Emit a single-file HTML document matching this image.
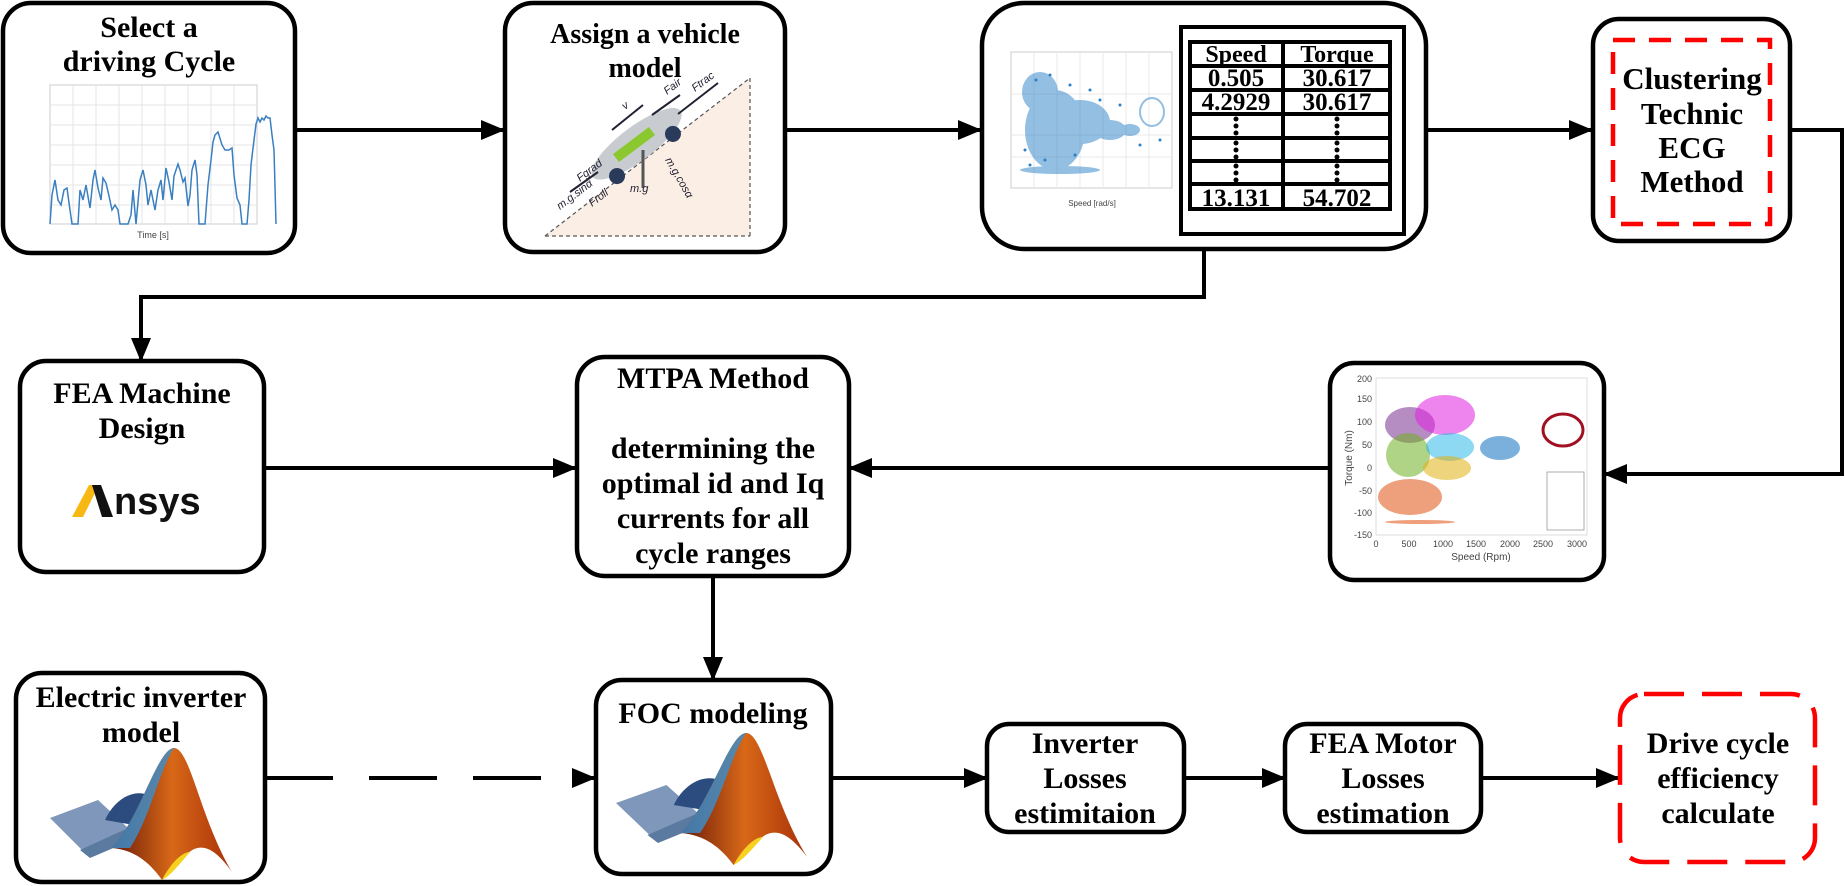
<!DOCTYPE html>
<html><head><meta charset="utf-8"><style>
html,body{margin:0;padding:0;background:#fff;}
svg{display:block;}
.t{font-family:"Liberation Serif",serif;font-weight:bold;text-anchor:middle;fill:#000;}
.ax{font-family:"Liberation Sans",sans-serif;fill:#444;}
</style></head><body>
<svg width="1845" height="886" viewBox="0 0 1845 886" xmlns="http://www.w3.org/2000/svg">
<defs>
<marker id="ah" markerWidth="6" markerHeight="5" refX="5.5" refY="2.5" orient="auto" markerUnits="strokeWidth"><path d="M0,0 L6,2.5 L0,5 Z" fill="#000"/></marker>
<linearGradient id="og2" x1="0" y1="0" x2="1" y2="0"><stop offset="0" stop-color="#6a1a08"/><stop offset="0.5" stop-color="#d86818"/><stop offset="1" stop-color="#a83008"/></linearGradient>
<g id="ml">
<path d="M0,70 L48,52 L78,80 L32,102 Z" fill="#7f97ba"/>
<path d="M30,102 L78,80 L82,92 L40,110 Z" fill="#5a7aa0"/>
<path d="M55,72 C65,50 85,40 100,48 L90,78 Z" fill="#2c4c80"/>
<path d="M62,100 C90,70 108,0 124,0 C140,0 150,70 182,124 C165,100 150,92 135,108 C125,120 118,128 112,132 C100,115 85,102 62,100 Z" fill="url(#og2)"/>
<path d="M112,132 C118,120 130,104 140,104 C128,118 120,128 112,132 Z" fill="#f8d020"/>
<path d="M62,100 C90,70 108,0 124,0 C110,20 100,70 80,100 Z" fill="#3a90d0" opacity="0.8"/>
</g>
</defs>

<g stroke="#000" stroke-width="4" fill="none">
<line x1="296" y1="130" x2="503" y2="130" marker-end="url(#ah)"/>
<line x1="785" y1="130" x2="980" y2="130" marker-end="url(#ah)"/>
<line x1="1427" y1="130" x2="1591" y2="130" marker-end="url(#ah)"/>
<polyline points="1791,130 1842,130 1842,474 1605,474" marker-end="url(#ah)"/>
<line x1="1328" y1="468" x2="850" y2="468" marker-end="url(#ah)"/>
<line x1="265" y1="468" x2="575" y2="468" marker-end="url(#ah)"/>
<polyline points="1204,250 1204,297 141,297 141,360" marker-end="url(#ah)"/>
<line x1="713" y1="577" x2="713" y2="679" marker-end="url(#ah)"/>
<line x1="265" y1="778" x2="594" y2="778" stroke-dasharray="68,36" marker-end="url(#ah)"/>
<line x1="832" y1="778" x2="986" y2="778" marker-end="url(#ah)"/>
<line x1="1185" y1="778" x2="1284" y2="778" marker-end="url(#ah)"/>
<line x1="1482" y1="778" x2="1618" y2="778" marker-end="url(#ah)"/>
</g>

<rect x="3" y="3" width="292" height="250" rx="28" fill="#fff" stroke="#000" stroke-width="4.5"/>
<text class="t" x="149" y="37" font-size="30">Select a</text>
<text class="t" x="149" y="71" font-size="30">driving Cycle</text>
<rect x="50" y="85" width="207" height="139" fill="#fff" stroke="#ccc" stroke-width="1"/>
<g stroke="#e4e4e4" stroke-width="1">
<line x1="73" y1="85" x2="73" y2="224"/><line x1="96" y1="85" x2="96" y2="224"/><line x1="119" y1="85" x2="119" y2="224"/><line x1="142" y1="85" x2="142" y2="224"/><line x1="165" y1="85" x2="165" y2="224"/><line x1="188" y1="85" x2="188" y2="224"/><line x1="211" y1="85" x2="211" y2="224"/><line x1="234" y1="85" x2="234" y2="224"/>
<line x1="50" y1="105" x2="257" y2="105"/><line x1="50" y1="125" x2="257" y2="125"/><line x1="50" y1="145" x2="257" y2="145"/><line x1="50" y1="165" x2="257" y2="165"/><line x1="50" y1="185" x2="257" y2="185"/><line x1="50" y1="205" x2="257" y2="205"/>
</g>
<polyline fill="none" stroke="#3a7fc0" stroke-width="1.5" points="50,224 52,195 55,180 58,200 61,205 64,190 67,188 70,210 72,224 78,224 80,190 83,200 86,185 90,208 93,180 95,170 98,188 101,200 103,178 106,183 109,196 112,210 115,205 118,210 120,224 128,224 131,215 133,190 136,224 140,180 143,170 146,185 148,205 151,190 155,210 158,190 161,180 163,200 166,168 169,182 172,200 174,176 178,164 180,170 183,182 185,178 188,206 190,195 192,170 195,160 197,175 199,224 205,224 208,185 211,160 213,142 215,135 218,132 222,145 225,150 229,150 232,148 234,175 237,198 240,205 242,224 247,224 249,200 251,165 254,140 256,124 258,118 260,122 262,118 264,120 266,116 268,118 270,118 272,135 274,150 276,224"/>
<text class="ax" x="153" y="238" font-size="9" text-anchor="middle">Time [s]</text>

<rect x="505" y="3" width="280" height="249" rx="28" fill="#fff" stroke="#000" stroke-width="4.5"/>
<text class="t" x="645" y="43" font-size="28">Assign a vehicle</text>
<text class="t" x="645" y="77" font-size="28">model</text>
<polygon points="545,236 750,78 750,236" fill="#fbeee4"/>
<g stroke="#555" stroke-width="1.2" stroke-dasharray="4,3" fill="none"><line x1="545" y1="236" x2="750" y2="236"/><line x1="750" y1="78" x2="750" y2="236"/><line x1="545" y1="236" x2="750" y2="78"/></g>
<g transform="translate(645,155) rotate(-37)"><ellipse cx="0" cy="-14" rx="55" ry="17" fill="#c8ccd0"/><rect x="-25" y="-20" width="45" height="10" fill="#8bc830"/><circle cx="-35" cy="0" r="8" fill="#2a3a5a"/><circle cx="35" cy="0" r="8" fill="#2a3a5a"/></g>
<line x1="643" y1="150" x2="643" y2="188" stroke="#555" stroke-width="3"/>
<g font-family="Liberation Sans,sans-serif" font-style="italic" font-size="11" fill="#223">
<text x="630" y="192">m.g</text><text transform="translate(560,210) rotate(-37)">m.g.sinα</text><text transform="translate(592,207) rotate(-37)">Froll</text><text transform="translate(580,182) rotate(-37)">Fgrad</text><text transform="translate(665,160) rotate(60)">m.g.cosα</text><text transform="translate(667,95) rotate(-37)">Fair</text><text transform="translate(695,92) rotate(-37)">Ftrac</text><text transform="translate(625,110) rotate(-37)">v</text>
</g>
<g stroke="#223" stroke-width="2"><line x1="612" y1="130" x2="643" y2="105"/><line x1="652" y1="115" x2="680" y2="95"/><line x1="678" y1="114" x2="718" y2="83"/><line x1="570" y1="192" x2="598" y2="172"/></g>

<rect x="982" y="3" width="444" height="246" rx="42" fill="#fff" stroke="#000" stroke-width="4.5"/>
<rect x="1011" y="52" width="161" height="136" fill="#fff" stroke="#ccc"/>
<g stroke="#e8e8e8" stroke-width="1"><line x1="1034" y1="52" x2="1034" y2="188"/><line x1="1057" y1="52" x2="1057" y2="188"/><line x1="1080" y1="52" x2="1080" y2="188"/><line x1="1103" y1="52" x2="1103" y2="188"/><line x1="1126" y1="52" x2="1126" y2="188"/><line x1="1149" y1="52" x2="1149" y2="188"/><line x1="1011" y1="94" x2="1172" y2="94"/><line x1="1011" y1="135" x2="1172" y2="135"/><line x1="1011" y1="157" x2="1172" y2="157"/></g>
<g fill="#2a80c8" opacity="0.5">
<ellipse cx="1055" cy="130" rx="30" ry="40"/><ellipse cx="1080" cy="122" rx="30" ry="22"/><ellipse cx="1110" cy="130" rx="16" ry="10"/><ellipse cx="1130" cy="130" rx="10" ry="6"/><ellipse cx="1152" cy="112" rx="12" ry="14" fill="none" stroke="#2a80c8" stroke-width="2"/><ellipse cx="1060" cy="170" rx="40" ry="4"/><ellipse cx="1040" cy="92" rx="18" ry="20"/>
</g>
<g fill="#2a80c8"><circle cx="1036" cy="80" r="1.5"/><circle cx="1050" cy="75" r="1.5"/><circle cx="1070" cy="85" r="1.5"/><circle cx="1090" cy="90" r="1.5"/><circle cx="1100" cy="100" r="1.5"/><circle cx="1025" cy="150" r="1.5"/><circle cx="1030" cy="165" r="1.5"/><circle cx="1045" cy="160" r="1.5"/><circle cx="1075" cy="155" r="1.5"/><circle cx="1120" cy="105" r="1.5"/><circle cx="1140" cy="145" r="1.5"/><circle cx="1160" cy="140" r="1.5"/></g>
<text class="ax" x="1092" y="206" font-size="8" text-anchor="middle">Speed [rad/s]</text>
<rect x="1181" y="27" width="223" height="207" fill="#fff" stroke="#000" stroke-width="4"/>
<g stroke="#000" stroke-width="4" fill="none">
<rect x="1190" y="42" width="200" height="167"/>
<line x1="1283" y1="42" x2="1283" y2="209"/>
<line x1="1190" y1="66" x2="1390" y2="66"/><line x1="1190" y1="90" x2="1390" y2="90"/><line x1="1190" y1="114" x2="1390" y2="114"/><line x1="1190" y1="138" x2="1390" y2="138"/><line x1="1190" y1="161" x2="1390" y2="161"/><line x1="1190" y1="184" x2="1390" y2="184"/>
</g>
<text class="t" x="1236" y="62" font-size="24">Speed</text><text class="t" x="1337" y="62" font-size="24">Torque</text>
<text class="t" x="1236" y="86" font-size="25">0.505</text><text class="t" x="1337" y="86" font-size="25">30.617</text>
<text class="t" x="1236" y="110" font-size="25">4.2929</text><text class="t" x="1337" y="110" font-size="25">30.617</text>
<text class="t" x="1236" y="206" font-size="25">13.131</text><text class="t" x="1337" y="206" font-size="25">54.702</text>
<g fill="#000"><circle cx="1236" cy="119" r="2.5"/><circle cx="1236" cy="126" r="2.5"/><circle cx="1236" cy="133" r="2.5"/><circle cx="1337" cy="119" r="2.5"/><circle cx="1337" cy="126" r="2.5"/><circle cx="1337" cy="133" r="2.5"/>
<circle cx="1236" cy="143" r="2.5"/><circle cx="1236" cy="150" r="2.5"/><circle cx="1236" cy="157" r="2.5"/><circle cx="1337" cy="143" r="2.5"/><circle cx="1337" cy="150" r="2.5"/><circle cx="1337" cy="157" r="2.5"/>
<circle cx="1236" cy="166" r="2.5"/><circle cx="1236" cy="173" r="2.5"/><circle cx="1236" cy="180" r="2.5"/><circle cx="1337" cy="166" r="2.5"/><circle cx="1337" cy="173" r="2.5"/><circle cx="1337" cy="180" r="2.5"/></g>

<rect x="1593" y="19" width="197" height="222" rx="26" fill="#fff" stroke="#000" stroke-width="4.5"/>
<rect x="1613" y="40" width="157" height="184" fill="none" stroke="#f00" stroke-width="4.5" stroke-dasharray="22,14"/>
<text class="t" x="1692" y="89" font-size="31">Clustering</text>
<text class="t" x="1692" y="124" font-size="31">Technic</text>
<text class="t" x="1692" y="158" font-size="31">ECG</text>
<text class="t" x="1692" y="192" font-size="31">Method</text>

<rect x="1330" y="363" width="274" height="217" rx="24" fill="#fff" stroke="#000" stroke-width="4.5"/>
<rect x="1376" y="378" width="211" height="157" fill="#fff" stroke="#ddd"/>
<g fill-opacity="0.55">
<ellipse cx="1410" cy="425" rx="25" ry="18" fill="#7a3090"/><ellipse cx="1445" cy="415" rx="30" ry="20" fill="#e020e0"/><ellipse cx="1408" cy="455" rx="22" ry="22" fill="#70b020"/><ellipse cx="1450" cy="447" rx="24" ry="14" fill="#30b8e8"/><ellipse cx="1447" cy="468" rx="24" ry="12" fill="#e0b010"/><ellipse cx="1410" cy="497" rx="32" ry="18" fill="#e05010"/><ellipse cx="1500" cy="448" rx="20" ry="12" fill="#1070c0"/><ellipse cx="1563" cy="430" rx="20" ry="16" fill="none" stroke="#a01020" stroke-width="3"/><ellipse cx="1420" cy="522" rx="35" ry="2" fill="#e05010"/>
</g>
<rect x="1547" y="472" width="37" height="58" fill="#fff" stroke="#999" stroke-width="0.8"/>
<g class="ax" font-size="9" text-anchor="end"><text x="1372" y="382">200</text><text x="1372" y="402">150</text><text x="1372" y="425">100</text><text x="1372" y="448">50</text><text x="1372" y="471">0</text><text x="1372" y="494">-50</text><text x="1372" y="516">-100</text><text x="1372" y="538">-150</text></g>
<g class="ax" font-size="9" text-anchor="middle"><text x="1376" y="547">0</text><text x="1409" y="547">500</text><text x="1443" y="547">1000</text><text x="1476" y="547">1500</text><text x="1510" y="547">2000</text><text x="1543" y="547">2500</text><text x="1577" y="547">3000</text><text x="1481" y="560" font-size="10">Speed (Rpm)</text></g>
<text class="ax" font-size="10" transform="translate(1352,458) rotate(-90)" text-anchor="middle">Torque (Nm)</text>

<rect x="20" y="361" width="244" height="211" rx="26" fill="#fff" stroke="#000" stroke-width="4.5"/>
<text class="t" x="142" y="403" font-size="30">FEA Machine</text>
<text class="t" x="142" y="438" font-size="30">Design</text>
<polygon points="72,517 83,517 99,485 89,485" fill="#f8b814"/>
<polygon points="92,485 101,485 113,517 102,517" fill="#111"/>
<text x="114" y="514" font-family="Liberation Sans,sans-serif" font-weight="bold" font-size="38" fill="#111">nsys</text>

<rect x="577" y="357" width="272" height="219" rx="28" fill="#fff" stroke="#000" stroke-width="4.5"/>
<text class="t" x="713" y="388" font-size="30">MTPA Method</text>
<text class="t" x="713" y="458" font-size="30">determining the</text>
<text class="t" x="713" y="493" font-size="30">optimal id and Iq</text>
<text class="t" x="713" y="528" font-size="30">currents for all</text>
<text class="t" x="713" y="563" font-size="30">cycle ranges</text>

<rect x="16" y="673" width="249" height="209" rx="26" fill="#fff" stroke="#000" stroke-width="4.5"/>
<text class="t" x="141" y="707" font-size="30">Electric inverter</text>
<text class="t" x="141" y="742" font-size="30">model</text>
<use href="#ml" transform="translate(50,748)"/>

<rect x="596" y="680" width="235" height="194" rx="26" fill="#fff" stroke="#000" stroke-width="4.5"/>
<text class="t" x="713" y="723" font-size="30">FOC modeling</text>
<use href="#ml" transform="translate(616,733) scale(1.05,1.0)"/>

<rect x="987" y="724" width="197" height="108" rx="22" fill="#fff" stroke="#000" stroke-width="4.5"/>
<text class="t" x="1085" y="753" font-size="30">Inverter</text>
<text class="t" x="1085" y="788" font-size="30">Losses</text>
<text class="t" x="1085" y="823" font-size="30">estimitaion</text>

<rect x="1285" y="724" width="196" height="108" rx="22" fill="#fff" stroke="#000" stroke-width="4.5"/>
<text class="t" x="1383" y="753" font-size="30">FEA Motor</text>
<text class="t" x="1383" y="788" font-size="30">Losses</text>
<text class="t" x="1383" y="823" font-size="30">estimation</text>

<rect x="1620" y="694" width="195" height="168" rx="24" fill="#fff" stroke="#f00" stroke-width="4.5" stroke-dasharray="40,18"/>
<text class="t" x="1718" y="753" font-size="30">Drive cycle</text>
<text class="t" x="1718" y="788" font-size="30">efficiency</text>
<text class="t" x="1718" y="823" font-size="30">calculate</text>
</svg>
</body></html>
